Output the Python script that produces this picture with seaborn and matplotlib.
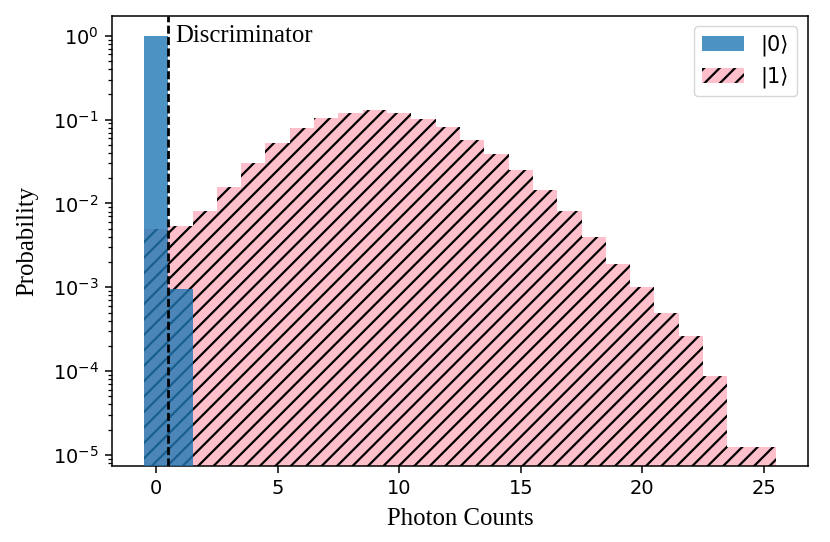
import numpy as np
import pandas as pd
import matplotlib
matplotlib.use("Agg")
import matplotlib.pyplot as plt
import seaborn as sns

# photon count bins and the measured probabilities for each prepared state
counts_0 = [0, 1]
prob_0 = [0.999, 9.6e-4]

counts_1 = list(range(26))
prob_1 = [5.0e-3, 5.45e-3, 8.2e-3, 1.56e-2, 3.0e-2, 5.2e-2, 8.0e-2, 0.105,
          0.121, 0.129, 0.121, 0.1025, 0.081, 0.057, 0.0386, 0.0251,
          0.0145, 8.2e-3, 3.95e-3, 1.9e-3, 1.02e-3, 4.9e-4, 2.63e-4,
          8.8e-5, 1.25e-5, 1.25e-5]

threshold = 0.5

df0 = pd.DataFrame({"counts": counts_0, "prob": prob_0})
df1 = pd.DataFrame({"counts": counts_1, "prob": prob_1})

DPI = 139
k = 100 / DPI  # keep sizes as measured in pixels

plt.rcParams['hatch.linewidth'] = 1.6 * k
fig = plt.figure(figsize=(830 / DPI, 542 / DPI), dpi=DPI)
ax = fig.add_axes([0.1353, 0.1408, 0.8378, 0.8297])

sns.histplot(data=df1, x="counts", weights="prob", discrete=True, stat="count",
             color="pink", alpha=1.0, hatch="///", edgecolor="black", linewidth=0,
             label=r"$|1\rangle$", ax=ax, zorder=2)
sns.histplot(data=df0, x="counts", weights="prob", discrete=True, stat="count",
             color="C0", alpha=0.8, linewidth=0,
             label=r"$|0\rangle$", ax=ax, zorder=3)

ax.set_yscale("log")
ax.set_ylim(7.45e-6, 1.72)
ax.set_xlim(-1.8, 26.8)

ax.axvline(threshold, color="black", linestyle=(0, (2.9, 1.2)), linewidth=2 * k, zorder=4)
ax.text(threshold + 0.28, 1.0, "Discriminator", family="Liberation Serif",
        fontsize=17.8 * k, va="center", ha="left")

ax.set_xlabel("Photon Counts", family="Liberation Serif", fontsize=17.8 * k, labelpad=7 * k)
ax.set_ylabel("Probability", family="Liberation Serif", fontsize=17.8 * k, labelpad=10 * k)
ax.tick_params(labelsize=14 * k, width=1.1 * k, length=4.9 * k, pad=4.9 * k)
ax.tick_params(which="minor", width=0.9 * k, length=2.8 * k)
for s in ax.spines.values():
    s.set_linewidth(1.1 * k)

h, l = ax.get_legend_handles_labels()
order = [l.index(r"$|0\rangle$"), l.index(r"$|1\rangle$")]
leg = ax.legend([h[i] for i in order], ["|0⟩", "|1⟩"], loc="upper right",
                fontsize=15 * k, borderaxespad=0.5, handlelength=2.0)
leg.get_frame().set_linewidth(1.0 * k)

fig.savefig("out.png", dpi=DPI)
